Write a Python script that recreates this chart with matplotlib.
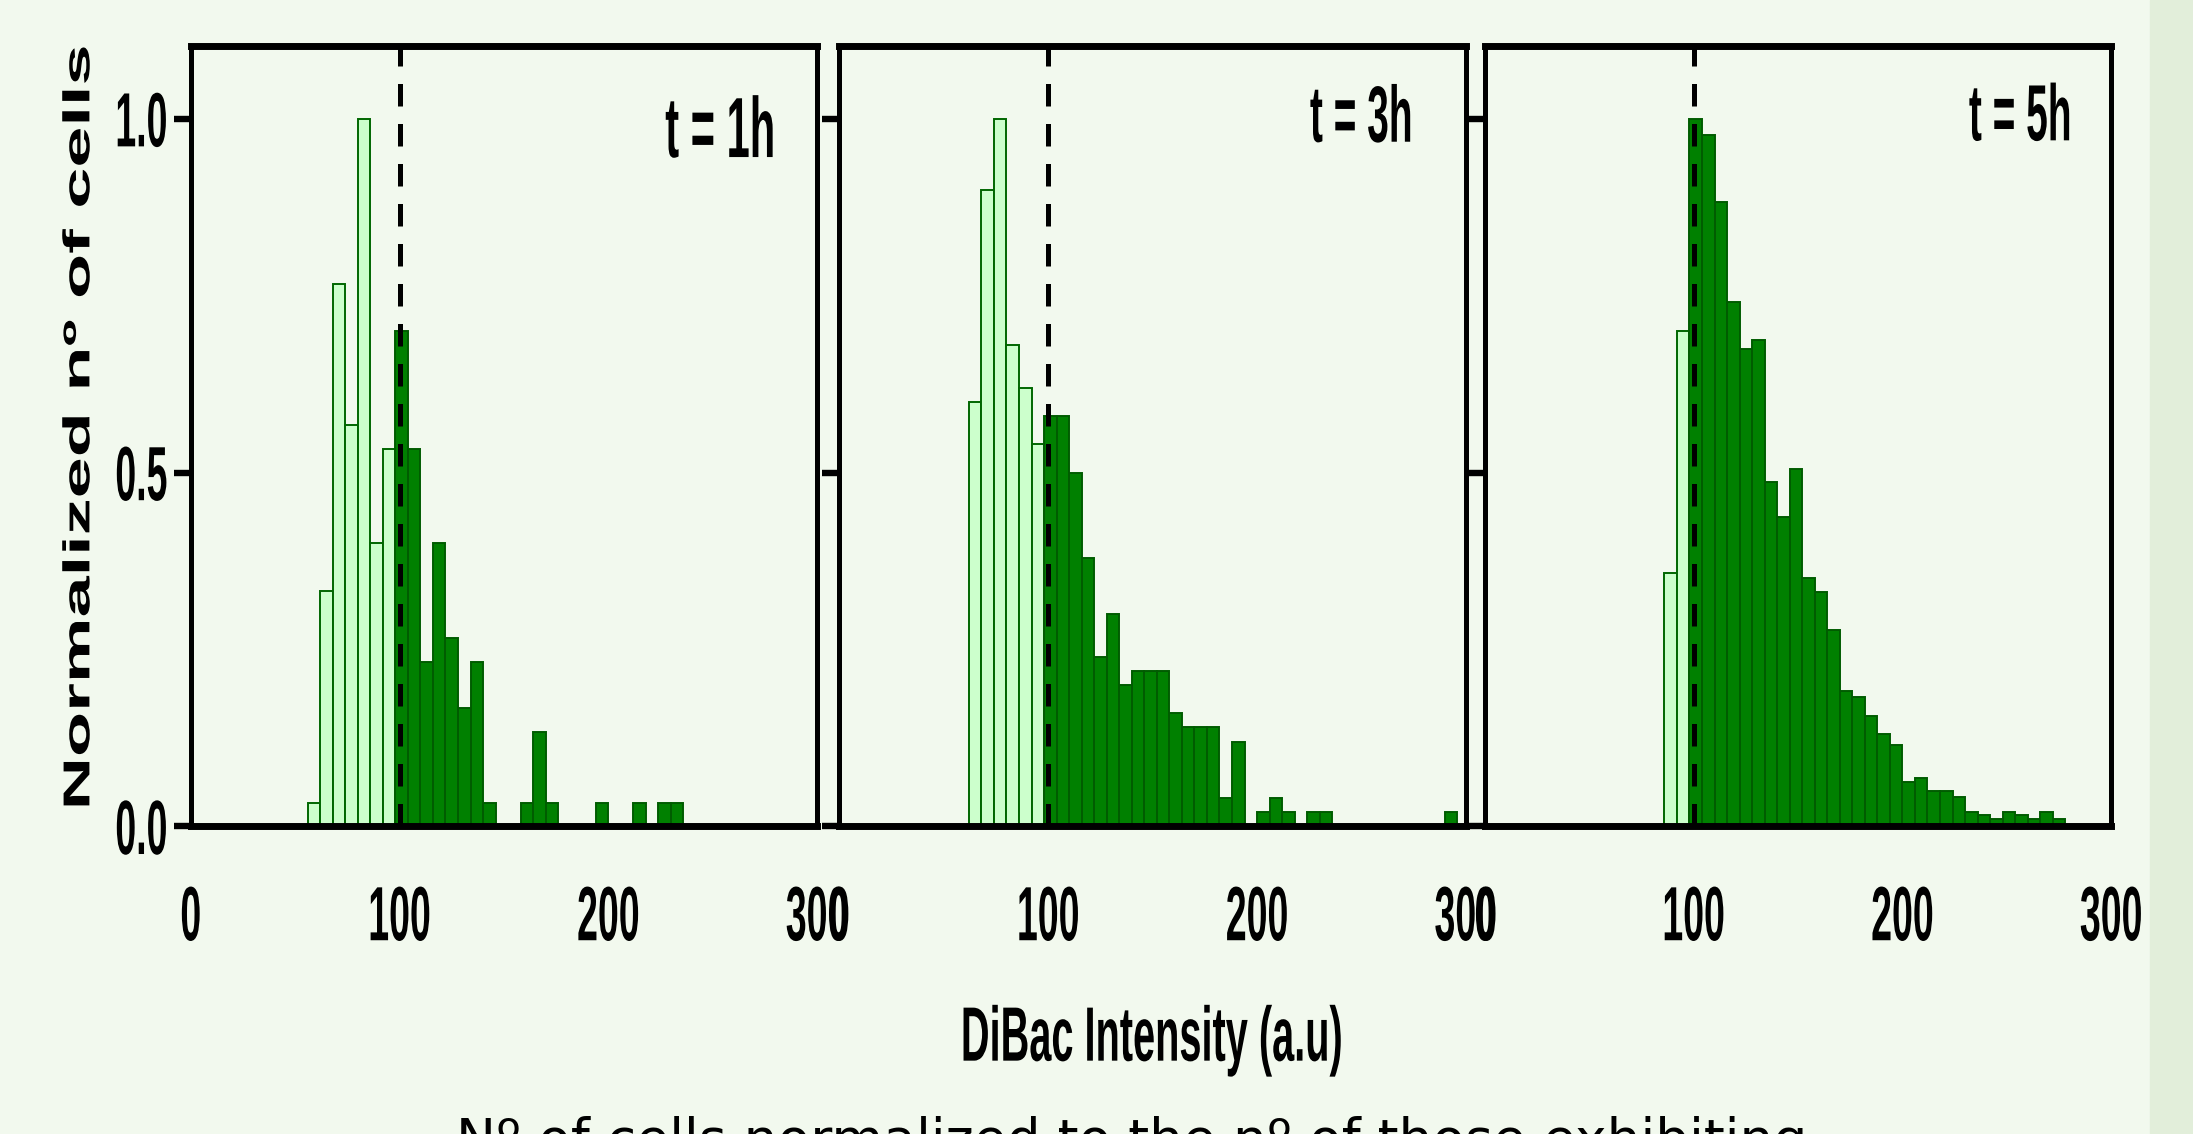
import numpy as np
import matplotlib
matplotlib.use('Agg')
import matplotlib.pyplot as plt
import matplotlib.patheffects as pe
from matplotlib.transforms import Affine2D
from matplotlib.patches import Rectangle

# histogram bins (DiBac intensity, a.u.): 6 units wide, first bin starts at 56
bin_start = 56
bin_width = 6
threshold = 100

panel_titles = ['t = 1h', 't = 3h', 't = 5h']

# normalized number of cells per bin
counts_1h = [0.033, 0.333, 0.767, 0.567, 1.0, 0.4, 0.533, 0.7, 0.533, 0.233,
             0.4, 0.267, 0.167, 0.233, 0.033, 0, 0, 0.033, 0.133, 0.033,
             0, 0, 0, 0.033, 0, 0, 0.033, 0, 0.033, 0.033,
             0, 0, 0, 0, 0, 0, 0, 0, 0, 0]
counts_3h = [0, 0.6, 0.9, 1.0, 0.68, 0.62, 0.54, 0.58, 0.58, 0.5,
             0.38, 0.24, 0.3, 0.2, 0.22, 0.22, 0.22, 0.16, 0.14, 0.14,
             0.14, 0.04, 0.12, 0, 0.02, 0.04, 0.02, 0, 0.02, 0.02,
             0, 0, 0, 0, 0, 0, 0, 0, 0, 0.02]
counts_5h = [0, 0, 0, 0, 0, 0.358, 0.7, 1.0, 0.977, 0.883,
             0.741, 0.675, 0.688, 0.487, 0.438, 0.505, 0.351, 0.332, 0.278, 0.191,
             0.183, 0.156, 0.131, 0.115, 0.063, 0.069, 0.05, 0.05, 0.042, 0.021,
             0.016, 0.01, 0.021, 0.016, 0.01, 0.021, 0.01, 0, 0, 0]

x_ticks = [0, 100, 200, 300]
y_ticks = [0.0, 0.5, 1.0]
y_ticklabels = ['0.0', '0.5', '1.0']

bg = '#F2F9EE'
strip = '#E2EEDA'
light_fill = '#CCFFCC'
light_edge = '#006600'
dark_fill = '#008000'
dark_edge = '#005C00'
font = 'Liberation Sans'


class Stretch(pe.AbstractPathEffect):
    """Scale the glyphs of a text around their own centre (the source
    figure was stretched vertically)."""

    def __init__(self, sx=1.0, sy=1.0):
        super().__init__()
        self.sx = sx
        self.sy = sy

    def draw_path(self, renderer, gc, tpath, affine, rgbFace=None):
        ext = tpath.get_extents()
        cx = (ext.x0 + ext.x1) / 2
        cy = (ext.y0 + ext.y1) / 2
        scale = Affine2D().translate(-cx, -cy).scale(self.sx, self.sy).translate(cx, cy)
        renderer.draw_path(gc, tpath, scale + affine, rgbFace)


fig = plt.figure(figsize=(21.93, 11.34), dpi=100, facecolor=bg)
fig.add_artist(Rectangle((2150 / 2193, 0), 1 - 2150 / 2193, 1,
                         transform=fig.transFigure, color=strip, zorder=0))

lefts = [0.0870, 0.3828, 0.6771]
title_x = [280, 274.5, 281]
title_y = [0.99, 1.008, 1.01]
title_size = [30, 28, 28]

for i, counts in enumerate([counts_1h, counts_3h, counts_5h]):
    ax = fig.add_axes([lefts[i], 0.2712, 0.2856, 0.6883])
    ax.set_facecolor(bg)

    counts = np.asarray(counts)
    edges = bin_start + bin_width * np.arange(len(counts))
    low = (edges + bin_width <= threshold) & (counts > 0)
    high = (edges + bin_width > threshold) & (counts > 0)
    ax.bar(edges[low], counts[low], width=bin_width, align='edge',
           color=light_fill, edgecolor=light_edge, linewidth=1.4)
    ax.bar(edges[high], counts[high], width=bin_width, align='edge',
           color=dark_fill, edgecolor=dark_edge, linewidth=1.4)
    ax.axvline(threshold, color='black', lw=3.6, ls=(0, (4.5, 3.5)), zorder=3)

    ax.set_xlim(0, 300)
    ax.set_ylim(0, 1.103)

    for side in ['top', 'bottom']:
        ax.spines[side].set_linewidth(5.0)
    for side in ['left', 'right']:
        ax.spines[side].set_linewidth(3.6)

    ax.set_xticks(x_ticks)
    ax.set_xticklabels([str(t) for t in x_ticks], fontsize=27,
                       fontweight='bold', family=font)
    ax.set_yticks(y_ticks)
    if i == 0:
        ax.set_yticklabels(y_ticklabels, fontsize=27, fontweight='bold', family=font)
    else:
        ax.set_yticklabels([])
    ax.tick_params(axis='x', length=0, pad=52)
    ax.tick_params(axis='y', direction='out', length=12.5, width=4.6, pad=4.3)
    for lbl in ax.get_xticklabels() + ax.get_yticklabels():
        lbl.set_path_effects([Stretch(1.0, 2.05)])

    ax.text(title_x[i], title_y[i], panel_titles[i], ha='right', va='center_baseline',
            fontsize=title_size[i], fontweight='bold', family=font,
            path_effects=[Stretch(1.0, 2.05)])

fig.text(0.0362, 1 - 427 / 1134, 'Normalized nº of cells', rotation=90,
         ha='center', va='center', fontsize=27, fontweight='bold', family=font,
         path_effects=[Stretch(1.97, 1.0)])
fig.text(1152 / 2193, 1 - 1040 / 1134, 'DiBac Intensity (a.u)', ha='center', va='center',
         fontsize=28.6, fontweight='bold', family=font,
         path_effects=[Stretch(1.0, 1.94)])
fig.text(1131.5 / 2193, 1 - 1157 / 1134,
         'Nº of cells normalized to the nº of those exhibiting',
         ha='center', va='baseline', fontsize=38.5, family='DejaVu Sans', color='black')

fig.savefig('out.png', dpi=100, facecolor=fig.get_facecolor())
